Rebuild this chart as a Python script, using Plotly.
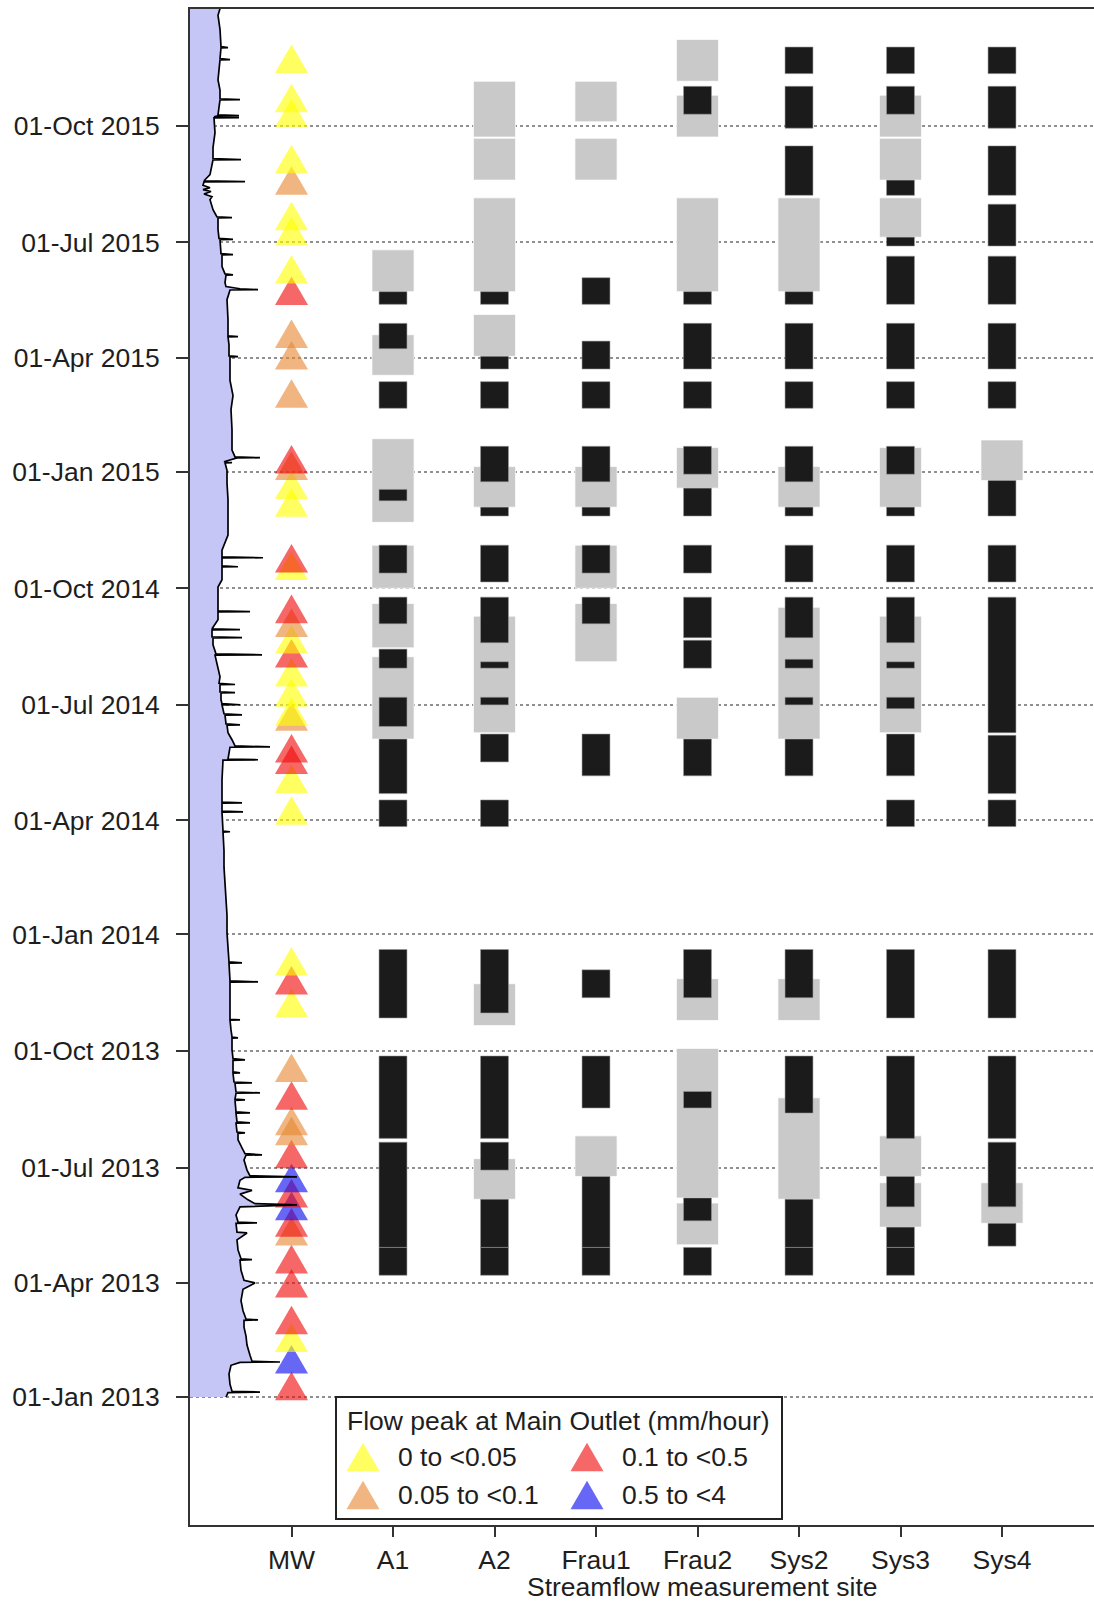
import pandas as pd
import plotly.graph_objects as go

# ---------------------------------------------------------------- data
sites = ["MW", "A1", "A2", "Frau1", "Frau2", "Sys2", "Sys3", "Sys4"]

# Main outlet discharge (L/s), time in days since 2013-01-01
flow_day = [
    0, 3.5, 3.9, 4.5, 10, 18, 25, 27.3, 27.6, 28.2, 33, 41, 48, 55, 60.4, 60.8, 61.5, 68, 76, 85,
    90, 92, 100, 108, 108.3, 109, 116, 124, 129.4, 130, 137.0, 137.3, 138, 143.6, 150, 151.5, 152.5,
    155.5, 160, 163, 165, 171, 173.3, 173.6, 174.5, 179, 187, 190.7, 191.0, 192, 195, 202.8, 208,
    208.3, 209, 216, 216.2, 217, 224, 224.1, 225, 234, 234.4, 235, 239.6, 239.9, 240.6, 247.5, 247.8,
    248.5, 255.4, 255.7, 256.5, 265.6, 265.9, 267, 274, 283.1, 283.3, 284, 289.6, 297.3, 297.5, 298,
    305.4, 313, 327.2, 327.5, 328.3, 342.2, 342.5, 343.2, 352.7, 366, 380, 392, 408, 418, 431,
    445.7, 445.9, 446.5, 461.3, 461.6, 462.3, 468.4, 468.7, 469.4, 476.6, 486.9, 502.4, 502.7,
    503.3, 512.6, 512.9, 513.6, 518.5, 524, 530.0, 530.3, 531, 538, 538.2, 539, 546, 546.1, 547,
    550, 555.4, 555.6, 556.3, 561.9, 562.1, 563, 568.2, 576.1, 585.3, 585.5, 586.2, 593.4, 598.8,
    599.0, 599.7, 605.1, 605.3, 606, 613.2, 619.3, 619.5, 620.2, 629, 639, 644.7, 654.8, 655.0,
    655.7, 661.9, 662.1, 662.8, 668, 680, 692, 708, 721, 731, 737, 737.1, 737.8, 740.8, 741.0,
    741.7, 747, 763, 779, 790, 802, 810, 820.5, 820.7, 821.3, 830, 836.3, 836.5, 837.2, 849.9,
    865.7, 873.3, 873.6, 874.3, 876, 879, 885, 885.2, 886, 891.7, 901, 901.2, 902, 913, 913.2, 914,
    921, 930.2, 930.4, 931, 936.7, 944.6, 947, 949, 951, 952.5, 954, 956, 958.6, 958.8, 959.5,
    964.3, 976, 976.2, 977, 985.6, 997.4, 1009.1, 1009.3, 1010, 1010.7, 1010.9, 1011.5, 1023.3,
    1023.5, 1024.2, 1031, 1039, 1047, 1054.9, 1055.1, 1055.8, 1064.4, 1064.6, 1065.3, 1079, 1090,
    1095.3,
]
flow_ls = [
    36, 38, 70, 42, 40, 39, 41, 50, 90, 62, 60, 57, 56, 54, 54, 68, 56, 53, 51, 53,
    65, 54, 51, 50, 62, 51, 48, 47, 57, 47, 46, 67, 48, 46, 50, 107, 65,
    58, 50, 62, 48, 50, 55, 107, 60, 57, 54, 56, 72, 55, 53, 48, 48,
    55, 47, 46, 60, 47, 46, 60, 46, 45, 55, 45, 46, 70, 46, 45, 62,
    44, 43, 50, 43, 43, 55, 43, 42, 42, 48, 42, 41, 40, 50, 40,
    40, 40, 40, 68, 40, 39, 52, 39, 38, 37, 37, 36, 35, 34, 34,
    33, 40, 33, 32, 53, 32, 32, 52, 32, 32, 32, 33, 68,
    38, 40, 80, 45, 42, 38, 37, 50, 36, 35, 52, 34, 32, 50, 32,
    31, 31, 45, 30, 30, 45, 29, 30, 28, 25, 72, 26, 23, 23,
    52, 22, 22, 50, 22, 28, 28, 60, 28, 28, 28, 32, 32, 48,
    32, 32, 73, 32, 32, 38, 38, 38, 37, 37, 35, 42, 34, 47, 70,
    45, 42, 42, 41, 43, 40, 40, 40, 48, 39, 39, 38, 48, 38, 38,
    37, 40, 68, 50, 36, 35, 36, 43, 35, 32, 32, 43, 31, 30, 43, 29,
    28, 28, 42, 27, 23, 20, 22, 14, 21, 13, 20, 13, 14, 55, 14,
    20, 23, 51, 23, 23, 25, 24, 49, 24, 28, 49, 28, 30,
    50, 30, 30, 28, 29, 30, 40, 30, 31, 38, 31, 30, 28,
    30,
]

# Flow peaks at the main outlet and their magnitude class
peak_date = [
    "2013-01-06", "2013-01-27", "2013-02-13", "2013-02-27", "2013-03-28", "2013-04-16",
    "2013-05-08", "2013-05-15", "2013-05-28", "2013-06-07", "2013-06-19", "2013-07-08",
    "2013-07-26", "2013-08-03", "2013-08-23", "2013-09-14", "2013-11-04", "2013-11-22",
    "2013-12-07", "2014-04-05", "2014-04-30", "2014-05-15", "2014-05-24", "2014-06-18",
    "2014-06-22", "2014-07-07", "2014-07-23", "2014-08-07", "2014-08-18", "2014-08-31",
    "2014-09-11", "2014-10-15", "2014-10-21", "2014-12-04", "2014-12-18", "2015-01-02",
    "2015-01-07", "2015-02-28", "2015-03-30", "2015-04-16", "2015-05-20", "2015-06-06",
    "2015-07-06", "2015-07-18", "2015-08-15", "2015-09-01", "2015-10-07", "2015-10-19",
    "2015-11-19",
]
peak_class = [
    2, 3, 0, 2, 2, 2,
    1, 2, 3, 2, 3, 2,
    1, 1, 2, 1, 0, 2,
    0, 0, 0, 2, 2, 1,
    0, 0, 0, 2, 0, 1,
    2, 0, 2, 0, 0, 1,
    2, 1, 1, 1, 2, 0,
    0, 0, 1, 0, 0, 0,
    0,
]
class_labels = ["0 to <0.05", "0.05 to <0.1", "0.1 to <0.5", "0.5 to <4"]

# Sampling periods per site: wide grey blocks and narrow black blocks (start, end)
a1_grey = [("2014-06-04", "2014-08-08"), ("2014-08-15", "2014-09-19"), ("2014-10-01", "2014-11-04"),
           ("2014-11-22", "2015-01-27"), ("2015-03-18", "2015-04-19"), ("2015-05-23", "2015-06-25")]
a1_black = [("2013-04-07", "2013-04-29"), ("2013-04-29", "2013-07-21"), ("2013-07-24", "2013-09-27"),
            ("2013-10-27", "2013-12-20"), ("2014-03-27", "2014-04-17"), ("2014-04-22", "2014-06-04"),
            ("2014-06-14", "2014-07-07"), ("2014-07-30", "2014-08-14"), ("2014-09-03", "2014-09-24"),
            ("2014-10-13", "2014-11-04"), ("2014-12-09", "2014-12-18"), ("2015-02-20", "2015-03-13"),
            ("2015-04-08", "2015-04-28"), ("2015-05-13", "2015-05-23")]

a2_grey = [("2013-06-06", "2013-07-08"), ("2013-10-21", "2013-11-23"), ("2014-06-09", "2014-09-09"),
           ("2014-12-04", "2015-01-05"), ("2015-04-02", "2015-05-05"), ("2015-05-23", "2015-08-05"),
           ("2015-08-19", "2015-09-21"), ("2015-09-22", "2015-11-05")]
a2_black = [("2013-04-07", "2013-04-29"), ("2013-04-29", "2013-06-06"), ("2013-06-29", "2013-07-21"),
            ("2013-07-24", "2013-09-27"), ("2013-10-31", "2013-12-20"), ("2014-03-27", "2014-04-17"),
            ("2014-05-17", "2014-06-08"), ("2014-07-01", "2014-07-07"), ("2014-07-30", "2014-08-04"),
            ("2014-08-19", "2014-09-24"), ("2014-10-06", "2014-11-04"), ("2014-11-27", "2014-12-04"),
            ("2014-12-24", "2015-01-21"), ("2015-02-20", "2015-03-13"), ("2015-03-23", "2015-04-02"),
            ("2015-05-13", "2015-05-23")]

frau1_grey = [("2013-06-24", "2013-07-26"), ("2014-08-04", "2014-09-19"), ("2014-10-01", "2014-11-04"),
              ("2014-12-04", "2015-01-05"), ("2015-08-19", "2015-09-21"), ("2015-10-04", "2015-11-05")]
frau1_black = [("2013-04-07", "2013-04-29"), ("2013-04-29", "2013-06-24"), ("2013-08-17", "2013-09-27"),
               ("2013-11-12", "2013-12-04"), ("2014-05-06", "2014-06-08"), ("2014-09-03", "2014-09-24"),
               ("2014-10-13", "2014-11-04"), ("2014-11-27", "2014-12-04"), ("2014-12-24", "2015-01-21"),
               ("2015-02-20", "2015-03-13"), ("2015-03-23", "2015-04-14"), ("2015-05-13", "2015-06-03")]

frau2_grey = [("2013-05-01", "2013-06-03"), ("2013-06-07", "2013-10-03"), ("2013-10-25", "2013-11-27"),
              ("2014-06-04", "2014-07-07"), ("2014-12-19", "2015-01-20"), ("2015-05-23", "2015-08-05"),
              ("2015-09-22", "2015-10-25"), ("2015-11-05", "2015-12-08")]
frau2_black = [("2013-04-07", "2013-04-29"), ("2013-05-20", "2013-06-07"), ("2013-08-17", "2013-08-30"),
               ("2013-11-12", "2013-12-20"), ("2014-05-06", "2014-06-04"), ("2014-07-30", "2014-08-21"),
               ("2014-08-23", "2014-09-24"), ("2014-10-13", "2014-11-04"), ("2014-11-27", "2014-12-19"),
               ("2014-12-30", "2015-01-21"), ("2015-02-20", "2015-03-13"), ("2015-03-23", "2015-04-28"),
               ("2015-05-13", "2015-05-23"), ("2015-10-10", "2015-11-01")]

sys2_grey = [("2013-06-06", "2013-08-25"), ("2013-10-25", "2013-11-27"), ("2014-06-04", "2014-09-16"),
             ("2014-12-04", "2015-01-05"), ("2015-05-23", "2015-08-05")]
sys2_black = [("2013-04-07", "2013-04-29"), ("2013-04-29", "2013-06-06"), ("2013-08-13", "2013-09-27"),
              ("2013-11-12", "2013-12-20"), ("2014-05-06", "2014-06-04"), ("2014-07-01", "2014-07-07"),
              ("2014-07-30", "2014-08-06"), ("2014-08-23", "2014-09-24"), ("2014-10-06", "2014-11-04"),
              ("2014-11-27", "2014-12-04"), ("2014-12-24", "2015-01-21"), ("2015-02-20", "2015-03-13"),
              ("2015-03-23", "2015-04-28"), ("2015-05-13", "2015-05-23"), ("2015-08-07", "2015-09-15"),
              ("2015-09-29", "2015-11-01"), ("2015-11-11", "2015-12-02")]

sys3_grey = [("2013-05-15", "2013-06-19"), ("2013-06-24", "2013-07-26"), ("2014-06-09", "2014-09-09"),
             ("2014-12-04", "2015-01-20"), ("2015-07-05", "2015-08-05"), ("2015-08-19", "2015-09-21"),
             ("2015-09-22", "2015-10-25")]
sys3_black = [("2013-04-07", "2013-04-29"), ("2013-04-29", "2013-05-15"), ("2013-05-31", "2013-06-24"),
              ("2013-07-24", "2013-09-27"), ("2013-10-27", "2013-12-20"), ("2014-03-27", "2014-04-17"),
              ("2014-05-06", "2014-06-08"), ("2014-06-28", "2014-07-07"), ("2014-07-30", "2014-08-04"),
              ("2014-08-19", "2014-09-24"), ("2014-10-06", "2014-11-04"), ("2014-11-27", "2014-12-04"),
              ("2014-12-30", "2015-01-21"), ("2015-02-20", "2015-03-13"), ("2015-03-23", "2015-04-28"),
              ("2015-05-13", "2015-06-20"), ("2015-06-28", "2015-07-05"), ("2015-08-07", "2015-08-19"),
              ("2015-10-10", "2015-11-01"), ("2015-11-11", "2015-12-02")]

sys4_grey = [("2013-05-18", "2013-06-19"), ("2014-12-25", "2015-01-26")]
sys4_black = [("2013-04-30", "2013-05-18"), ("2013-05-31", "2013-07-21"), ("2013-07-24", "2013-09-27"),
              ("2013-10-27", "2013-12-20"), ("2014-03-27", "2014-04-17"), ("2014-04-22", "2014-06-07"),
              ("2014-06-09", "2014-09-24"), ("2014-10-06", "2014-11-04"), ("2014-11-27", "2014-12-25"),
              ("2015-02-20", "2015-03-13"), ("2015-03-23", "2015-04-28"), ("2015-05-13", "2015-06-20"),
              ("2015-06-28", "2015-07-31"), ("2015-08-07", "2015-09-15"), ("2015-09-29", "2015-11-01"),
              ("2015-11-11", "2015-12-02")]

quarter_ticks = pd.date_range("2013-01-01", "2015-10-01", freq="QS")

# ---------------------------------------------------------------- style
FONT = "Liberation Sans, Arial, Helvetica, sans-serif"
FS = 26.5
TXT = "#1e1e1e"
class_fill = ["rgba(255,255,0,0.62)", "rgba(230,135,50,0.62)",
              "rgba(240,10,10,0.62)", "rgba(10,10,240,0.62)"]
TRI_HALF_W = 0.163        # half width of a peak triangle (site units)
TRI_UP, TRI_DOWN = 15.0, 7.5   # apex above / base below the peak date (days)
GREY_W, BLACK_W = 0.415, 0.275

W, H = 1094, 1602
ML, MR, MT, MB = 190, 0, 9, 77
X_MAX = (W - ML - MR) / 101.5

fig = go.Figure()

# sampling blocks: grey first, black on top
grey_sets = [a1_grey, a2_grey, frau1_grey, frau2_grey, sys2_grey, sys3_grey, sys4_grey]
black_sets = [a1_black, a2_black, frau1_black, frau2_black, sys2_black, sys3_black, sys4_black]


def block_trace(site_idx, blocks, width, color, line_color, line_w):
    starts = pd.to_datetime([b[0] for b in blocks])
    ends = pd.to_datetime([b[1] for b in blocks])
    dur_ms = [(e - s).total_seconds() * 1000 for s, e in zip(starts, ends)]
    return go.Bar(
        x=[site_idx] * len(blocks), y=dur_ms, base=[s.strftime("%Y-%m-%d") for s in starts],
        width=width, marker=dict(color=color, line=dict(color=line_color, width=line_w)),
        hoverinfo="skip", showlegend=False,
    )


for i, blocks in enumerate(grey_sets, start=2):
    fig.add_trace(block_trace(i, blocks, GREY_W, "#c9c9c9", "rgba(255,255,255,0.9)", 0.8))
for i, blocks in enumerate(black_sets, start=2):
    fig.add_trace(block_trace(i, blocks, BLACK_W, "#1b1b1b", "rgba(150,150,150,0.7)", 0.8))

# flow peak triangles in the MW column
for d, c in zip(peak_date, peak_class):
    t = pd.Timestamp(d)
    top = (t + pd.Timedelta(days=TRI_UP)).strftime("%Y-%m-%d %H:%M")
    bot = (t - pd.Timedelta(days=TRI_DOWN)).strftime("%Y-%m-%d %H:%M")
    fig.add_trace(go.Scatter(
        x=[1 - TRI_HALF_W, 1 + TRI_HALF_W, 1, 1 - TRI_HALF_W],
        y=[bot, bot, top, bot],
        mode="lines", fill="toself", fillcolor=class_fill[c],
        line=dict(width=0), hoverinfo="skip", showlegend=False,
    ))

# hydrograph of the main outlet
flow_time = pd.Timestamp("2013-01-01") + pd.to_timedelta(flow_day, unit="D")
fig.add_trace(go.Scatter(
    x=flow_ls, y=flow_time, xaxis="x2", mode="lines", fill="tozerox",
    fillcolor="#c6c6f6", line=dict(color="black", width=1.7),
    hoverinfo="skip", showlegend=False,
))

fig.update_layout(
    width=W, height=H, margin=dict(l=ML, r=MR, t=MT, b=MB),
    paper_bgcolor="white", plot_bgcolor="white", barmode="overlay",
    font=dict(family=FONT, size=FS, color=TXT),
    xaxis=dict(
        range=[0, X_MAX], tickvals=list(range(1, len(sites) + 1)), ticktext=sites,
        ticks="outside", ticklen=10, tickwidth=1.5, tickcolor="#333",
        showline=True, mirror=True, linecolor="#333", linewidth=2,
        showgrid=False, zeroline=False, ticklabelstandoff=0,
        tickfont=dict(family=FONT, size=FS, color=TXT),
    ),
    xaxis2=dict(overlaying="x", range=[0, W - ML - MR], visible=False),
    yaxis=dict(
        type="date", range=["2012-09-22", "2016-01-01"],
        tickvals=list(quarter_ticks), tickformat="%d-%b %Y",
        ticks="outside", ticklen=12, tickwidth=1.5, tickcolor="#333",
        showline=True, linecolor="#333", linewidth=2, zeroline=False,
        showgrid=True, gridcolor="#8f8f8f", gridwidth=1.5, griddash="3px,3px",
        ticklabelstandoff=11, tickfont=dict(family=FONT, size=FS, color=TXT),
    ),
)

# axis title
fig.add_annotation(
    text="Streamflow measurement site", xref="paper", yref="paper",
    x=(702 - ML) / (W - ML - MR), y=-(1587 - (H - MB)) / (H - MT - MB),
    xanchor="center", yanchor="middle", showarrow=False,
    font=dict(family=FONT, size=FS, color=TXT),
)

# legend box built from shapes and annotations
PW, PH = W - ML - MR, H - MT - MB


def px2paper(px, py):
    return (px - ML) / PW, (H - MB - py) / PH


bx0, by0 = px2paper(336, 1519)
bx1, by1 = px2paper(782, 1397)
fig.add_shape(type="rect", xref="paper", yref="paper", x0=bx0, y0=by0, x1=bx1, y1=by1,
              line=dict(color="#222", width=2), fillcolor="white", layer="above")
tx, ty = px2paper(345, 1421)
fig.add_annotation(text="Flow peak at Main Outlet (mm/hour)", xref="paper", yref="paper",
                   x=tx, y=ty, xanchor="left", yanchor="middle", showarrow=False,
                   font=dict(family=FONT, size=FS, color=TXT))

key_pos = [(363, 1457), (363, 1495), (587, 1457), (587, 1495)]
for k, (cx, cy) in enumerate(key_pos):
    pts = [(cx - 16.5, cy + 14.3), (cx + 16.5, cy + 14.3), (cx, cy - 14.3)]
    path = "M " + " L ".join("{:.5f},{:.5f}".format(*px2paper(a, b)) for a, b in pts) + " Z"
    fig.add_shape(type="path", path=path, xref="paper", yref="paper",
                  fillcolor=class_fill[k], line=dict(width=0), layer="above")
    lx, ly = px2paper(cx + 33, cy)
    fig.add_annotation(text=class_labels[k], xref="paper", yref="paper", x=lx, y=ly,
                       xanchor="left", yanchor="middle", showarrow=False,
                       font=dict(family=FONT, size=FS, color=TXT))

fig.write_html("out.html")
